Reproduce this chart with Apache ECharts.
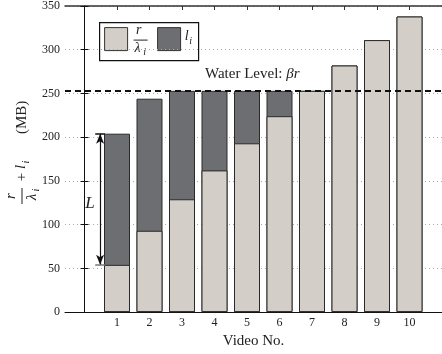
<!DOCTYPE html>
<html>
<head>
<meta charset="utf-8">
<script src="https://cdn.jsdelivr.net/npm/echarts@6/dist/echarts.min.js"></script>
<style>
  html, body { margin: 0; padding: 0; background: #fff; }
  #chart { width: 442px; height: 354px; }
</style>
</head>
<body>
<div id="chart"></div>
<script>
// Video indices and the two stacked parts of each bar (MB)
const videos = [1, 2, 3, 4, 5, 6, 7, 8, 9, 10];
const rOverLambda = [54, 93, 129, 162, 193, 224, 253, 282, 311, 338];
const lValues = [150, 151, 124, 91, 60, 29, 0, 0, 0, 0];
const waterLevel = 253;
const yTicks = [0, 50, 100, 150, 200, 250, 300, 350];

const SERIF = '"Liberation Serif", "DejaVu Serif", serif';
const LIGHT = '#d3cfc8';
const DARK = '#6d6e72';

const chart = echarts.init(document.getElementById('chart'));

// the l_i part sits on top of r/λ_i: draw the full height in dark, then overlay the lower part
const totals = rOverLambda.map((v, i) => v + lValues[i]);

// L arrow spans the l_1 part of the first bar
const arrowX = 0.48;
const l1Top = totals[0];
const l1Bottom = rOverLambda[0];

const option = {
  animation: false,
  grid: { left: 65, right: -2, top: 5.5, bottom: 40.5 },
  xAxis: [
    {
      type: 'value', min: -0.6, max: 11, position: 'bottom',
      splitLine: { show: false },
      axisLine: { show: true, onZero: false, lineStyle: { color: '#111', width: 1 } },
      axisTick: { show: true, inside: true, length: 4, customValues: videos, lineStyle: { color: '#111' } },
      axisLabel: {
        customValues: videos, margin: 5,
        fontFamily: SERIF, fontSize: 12, color: '#222'
      },
      name: 'Video No.', nameLocation: 'middle', nameGap: 21,
      nameTextStyle: { fontFamily: SERIF, fontSize: 15, color: '#222' }
    },
    {
      type: 'value', min: -0.6, max: 11, position: 'top',
      splitLine: { show: false },
      axisLine: { show: true, onZero: false, lineStyle: { color: '#333', width: 1.5 } },
      axisTick: { show: true, inside: true, length: 4, customValues: videos, lineStyle: { color: '#333' } },
      axisLabel: { show: false }
    }
  ],
  yAxis: [
    {
      type: 'value', min: 0, max: 350, interval: 50, position: 'left',
      axisLine: { show: true, lineStyle: { color: '#111', width: 1 } },
      axisTick: { show: true, inside: true, length: 4, lineStyle: { color: '#111' } },
      axisLabel: {
        margin: 5, fontFamily: SERIF, fontSize: 12, color: '#222',
        formatter: v => yTicks.includes(v) ? String(v) : ''
      },
      splitLine: { show: true, lineStyle: { color: '#aaa', type: [1, 3], width: 1 } }
    },
    {
      type: 'value', min: 0, max: 350, interval: 50, position: 'right',
      axisLine: { show: true, lineStyle: { color: '#111' } },
      axisTick: { show: true, inside: true, length: 4, lineStyle: { color: '#111' } },
      axisLabel: { show: false },
      splitLine: { show: false }
    }
  ],
  series: [
    {
      name: 'li', type: 'bar', barWidth: 26, barGap: '-100%', z: 2,
      data: videos.map((v, i) => [v, totals[i]]),
      itemStyle: { color: DARK, borderColor: '#2a2a2a', borderWidth: 1 },
      markLine: {
        silent: true, z: 10, animation: false,
        label: { show: false },
        data: [
          [
            { coord: [arrowX, l1Top], symbol: 'arrow', symbolSize: [6, 10] },
            { coord: [arrowX, l1Bottom], symbol: 'arrow', symbolSize: [6, 10],
              lineStyle: { color: '#111', width: 1.2, type: 'solid' } }
          ],
          [
            { coord: [0.33, l1Top], symbol: 'none' },
            { coord: [0.63, l1Top], symbol: 'none',
              lineStyle: { color: '#111', width: 1.5, type: 'solid' } }
          ],
          [
            { coord: [0.33, l1Bottom], symbol: 'none' },
            { coord: [0.63, l1Bottom], symbol: 'none',
              lineStyle: { color: '#777', width: 1.5, type: 'solid' } }
          ]
        ],
        lineStyle: { color: '#111', width: 1.2, type: 'solid' }
      }
    },
    {
      name: 'r/λi', type: 'bar', barWidth: 26, barGap: '-100%', z: 3,
      data: videos.map((v, i) => [v, rOverLambda[i]]),
      itemStyle: { color: LIGHT, borderColor: '#2a2a2a', borderWidth: 1 },
      markLine: {
        silent: true, symbol: 'none', z: 10,
        label: { show: false },
        lineStyle: { color: '#111', type: [6, 4], width: 2 },
        data: [{ yAxis: waterLevel }]
      }
    }
  ],
  graphic: [
    // legend box
    {
      type: 'group', left: 99, top: 22, z: 20,
      children: [
        { type: 'rect', shape: { x: 0, y: 0, width: 99, height: 38 },
          style: { fill: '#fff', stroke: '#111', lineWidth: 1.2 } },
        { type: 'rect', shape: { x: 5, y: 5, width: 23, height: 23 },
          style: { fill: LIGHT, stroke: '#333', lineWidth: 1 } },
        { type: 'text', x: 39, y: 8, style: { text: 'r', font: 'italic 14px ' + SERIF, fill: '#222', align: 'center', verticalAlign: 'middle' } },
        { type: 'line', shape: { x1: 34, y1: 17.5, x2: 48, y2: 17.5 }, style: { stroke: '#222', lineWidth: 1 } },
        { type: 'text', x: 38, y: 26, style: { text: 'λ', font: 'italic 14px ' + SERIF, fill: '#222', align: 'center', verticalAlign: 'middle' } },
        { type: 'text', x: 45, y: 30, style: { text: 'i', font: 'italic 10px ' + SERIF, fill: '#222', align: 'center', verticalAlign: 'middle' } },
        { type: 'rect', shape: { x: 58, y: 5, width: 23, height: 23 },
          style: { fill: DARK, stroke: '#333', lineWidth: 1 } },
        { type: 'text', x: 87, y: 14, style: { text: 'l', font: 'italic 14px ' + SERIF, fill: '#222', align: 'center', verticalAlign: 'middle' } },
        { type: 'text', x: 91, y: 19, style: { text: 'i', font: 'italic 10px ' + SERIF, fill: '#222', align: 'center', verticalAlign: 'middle' } }
      ]
    },
    // water level caption
    {
      type: 'text', left: 205, top: 67, z: 20,
      style: {
        text: '{n|Water Level: }{m|βr}',
        rich: {
          n: { fontFamily: SERIF, fontSize: 15, fill: '#222' },
          m: { fontFamily: SERIF, fontSize: 15, fontStyle: 'italic', fill: '#222' }
        }
      }
    },
    // arrow label
    {
      type: 'text', x: 90, y: 204, z: 20,
      style: { text: 'L', font: 'italic 17px ' + SERIF, fill: '#222', align: 'center', verticalAlign: 'middle' }
    },
    // y-axis title, drawn rotated so it reads bottom to top
    {
      type: 'group', x: 22, y: 150, rotation: Math.PI / 2, z: 20,
      children: [
        { type: 'text', x: -46, y: -11, style: { text: 'r', font: 'italic 15px ' + SERIF, fill: '#222', align: 'center', verticalAlign: 'middle' } },
        { type: 'line', shape: { x1: -54, y1: 0, x2: -38, y2: 0 }, style: { stroke: '#222', lineWidth: 1 } },
        { type: 'text', x: -47, y: 10, style: { text: 'λ', font: 'italic 15px ' + SERIF, fill: '#222', align: 'center', verticalAlign: 'middle' } },
        { type: 'text', x: -40, y: 14, style: { text: 'i', font: 'italic 10px ' + SERIF, fill: '#222', align: 'center', verticalAlign: 'middle' } },
        { type: 'text', x: -27, y: 0, style: { text: '+', font: '15px ' + SERIF, fill: '#222', align: 'center', verticalAlign: 'middle' } },
        { type: 'text', x: -17, y: -1, style: { text: 'l', font: 'italic 15px ' + SERIF, fill: '#222', align: 'center', verticalAlign: 'middle' } },
        { type: 'text', x: -12, y: 4, style: { text: 'i', font: 'italic 10px ' + SERIF, fill: '#222', align: 'center', verticalAlign: 'middle' } },
        { type: 'text', x: 16, y: 0, style: { text: '(MB)', font: '15px ' + SERIF, fill: '#222', align: 'left', verticalAlign: 'middle' } }
      ]
    }
  ]
};

chart.setOption(option);
</script>
</body>
</html>
